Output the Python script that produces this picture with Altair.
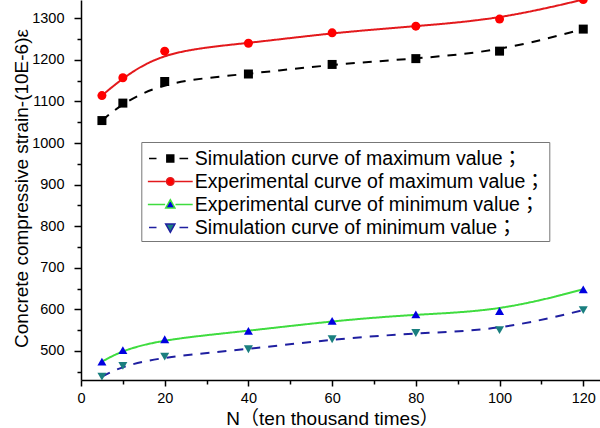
import altair as alt
import pandas as pd

# ---- data ----
N = [5, 10, 20, 40, 60, 80, 100, 120]
sim_max = [1054, 1096, 1148, 1166, 1189, 1203, 1221, 1274]
exp_max = [1114, 1157, 1221, 1240, 1265, 1281, 1298, 1345]
exp_min = [474, 502, 528, 548, 572, 588, 596, 648]
sim_min = [438, 464, 486, 504, 528, 543, 550, 598]

series_names = [
    "Simulation curve of maximum value；",
    "Experimental curve of maximum value；",
    "Experimental curve of minimum value；",
    "Simulation curve of minimum value；",
]
series_values = [sim_max, exp_max, exp_min, sim_min]

x_ticks = [0, 20, 40, 60, 80, 100, 120]
x_minor = [10, 30, 50, 70, 90, 110]
y_ticks = [500, 600, 700, 800, 900, 1000, 1100, 1200, 1300]
y_minor = [450, 550, 650, 750, 850, 950, 1050, 1150, 1250]

# ---- styles ----
line_colors = ["#000000", "#e3191c", "#3fdc3f", "#1f1fa0"]
marker_colors = ["#000000", "#ff0000", "#0000e0", "#1a7f7f"]
marker_shapes = ["square", "circle", "triangle-up", "triangle-down"]
dashes = [[9, 8], [1, 0], [1, 0], [9, 8]]
legend_paths = [
    "M-1.85,0H-1.2M0.8,0H1.55M-0.3,-0.3H0.3V0.3H-0.3Z",
    "M-1.95,0H-0.4M0.4,0H1.95M0.33,0A0.33,0.33,0,1,1,-0.33,0A0.33,0.33,0,1,1,0.33,0Z",
    "M-1.95,0H-0.45M0.45,0H1.95M0,-0.42L0.4,0.3L-0.4,0.3Z",
    "M-1.85,0H-1.2M0.8,0H1.55M0,0.42L0.4,-0.3L-0.4,-0.3Z",
]

rows = []
for name, vals in zip(series_names, series_values):
    for n, v in zip(N, vals):
        rows.append({"N": n, "v": v, "s": name})
df = pd.DataFrame(rows)

FONT = "Liberation Sans, Noto Sans CJK SC"
LEGEND_FONT = "Liberation Sans, Noto Sans CJK JP"
xscale = alt.Scale(domain=[0, 124], nice=False, zero=False)
yscale = alt.Scale(domain=[430, 1344], nice=False, zero=False)

common_axis = dict(
    grid=False, domainColor="black", tickColor="black", domainWidth=1.5,
    tickWidth=1.5, labelColor="black", labelFont=FONT, labelFontSize=14.5,
    titleFont=FONT, titleFontSize=19, titleFontWeight="normal", titleColor="black",
    labelFlush=False,
)

xaxis = alt.Axis(
    values=x_ticks, format="d", tickSize=6, labelPadding=5,
    title="N（ten thousand times）", titleX=251, titleY=44,
    titleBaseline="alphabetic", titleAlign="center", orient="bottom", **common_axis,
)
yaxis = alt.Axis(
    values=y_ticks, format="d", tickSize=7, labelPadding=10,
    title="Concrete compressive strain-(10E-6)ε", titleX=-60, titleY=188,
    titleBaseline="middle", titleAlign="center", orient="left", **common_axis,
)
xminor = alt.Axis(values=x_minor, tickSize=4, labels=False, domain=False, grid=False,
                  tickColor="black", tickWidth=1.5, title=None, orient="bottom")
yminor = alt.Axis(values=y_minor, tickSize=4, labels=False, domain=False, grid=False,
                  tickColor="black", tickWidth=1.5, title=None, orient="left")

base = alt.Chart(df)

lines = base.mark_line(interpolate="basis", strokeWidth=2, clip=True).encode(
    x=alt.X("N:Q", scale=xscale, axis=xaxis),
    y=alt.Y("v:Q", scale=yscale, axis=yaxis),
    color=alt.Color("s:N", scale=alt.Scale(domain=series_names, range=line_colors), legend=None),
    strokeDash=alt.StrokeDash("s:N", scale=alt.Scale(domain=series_names, range=dashes), legend=None),
)

points = base.mark_point(filled=True, opacity=1, size=81, clip=True).encode(
    x=alt.X("N:Q", scale=xscale, axis=None),
    y=alt.Y("v:Q", scale=yscale, axis=None),
    fill=alt.Fill("s:N", scale=alt.Scale(domain=series_names, range=marker_colors), legend=None),
    shape=alt.Shape("s:N", scale=alt.Scale(domain=series_names, range=marker_shapes), legend=None),
)

lg = alt.Legend(
    title=None, orient="none", legendX=60.3, legendY=142, padding=4,
    symbolSize=529, symbolOffset=12.5, labelOffset=12, rowPadding=1,
    labelFont=LEGEND_FONT, labelFontSize=19.5, labelColor="black", labelLimit=600,
    strokeColor="#777777", fillColor="white", symbolStrokeWidth=1.5,
)

legend_layer = base.transform_filter("datum.v < 0").mark_point(
    filled=True, opacity=1, size=529, strokeWidth=1.5
).encode(
    x=alt.X("N:Q", scale=xscale, axis=xminor),
    y=alt.Y("v:Q", scale=yscale, axis=yminor),
    shape=alt.Shape("s:N", scale=alt.Scale(domain=series_names, range=legend_paths), legend=lg),
    fill=alt.Fill("s:N", scale=alt.Scale(domain=series_names, range=marker_colors), legend=lg),
    stroke=alt.Stroke("s:N", scale=alt.Scale(domain=series_names, range=line_colors), legend=lg),
)

chart = alt.layer(lines, points, legend_layer).resolve_scale(
    shape="independent", fill="independent", stroke="independent"
).resolve_axis(x="independent", y="independent").properties(
    width=519, height=380, autosize="none",
    padding={"left": 81, "top": 0, "right": 0, "bottom": 48},
    background="white",
).configure_view(strokeWidth=0)

chart.save("out.html", embed_options={"renderer": "svg", "actions": False})
